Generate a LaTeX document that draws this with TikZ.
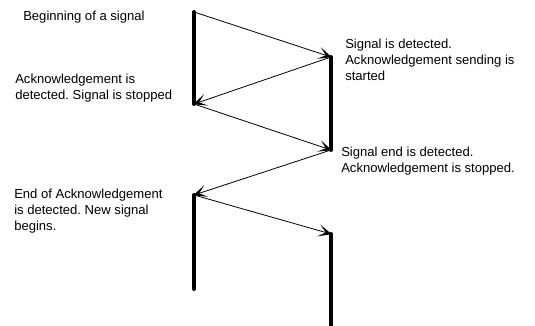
\documentclass[tikz,border=0pt]{standalone}
\usepackage{fontspec}
\setmainfont{Liberation Sans}
\usetikzlibrary{arrows.meta}
\frenchspacing

\begin{document}
\begin{tikzpicture}[
    x=0.75pt, y=-0.75pt,
    line/.style={line width=3pt, line cap=round},
    msg/.style={-{Stealth[length=10pt, width=9pt, inset=5.5pt]}, line width=0.6pt, shorten >=-0.5pt},
    note/.style={align=left, anchor=base west, inner sep=0pt, font=\fontsize{9.8}{12}\selectfont}
]
    \useasboundingbox (0,0) rectangle (535,325);

    % Sender side (left) and receiver side (right)
    \coordinate (s1) at (194,12);
    \coordinate (s2) at (194,104);
    \coordinate (s3) at (194,195);
    \coordinate (s4) at (194,289);
    \coordinate (r1) at (331,57);
    \coordinate (r2) at (331,150);
    \coordinate (r3) at (331,234);
    \coordinate (r4) at (331,330);

    % Signal / acknowledgement periods
    \draw[line] (s1) -- (s2);
    \draw[line] (r1) -- (r2);
    \draw[line] (s3) -- (s4);
    \draw[line] (r3) -- (r4);

    % Transitions
    \draw[msg] (s1) -- (r1);
    \draw[msg] (r1) -- (s2);
    \draw[msg] (s2) -- (r2);
    \draw[msg] (r2) -- (s3);
    \draw[msg] (s3) -- (r3);

    % Notes (placed at the baseline of their last line)
    \node[note] (begin) at (23,20) {Beginning of a signal};
    \node[note] (ackdet) at (15,99) {Acknowledgement is\\detected. Signal is stopped};
    \node[note] (sigdet) at (345,80) {Signal is detected.\\Acknowledgement sending is\\started};
    \node[note] (sigend) at (341,172) {Signal end is detected.\\Acknowledgement is stopped.};
    \node[note] (endack) at (14,230) {End of Acknowledgement\\is detected. New signal\\begins.};
\end{tikzpicture}
\end{document}
